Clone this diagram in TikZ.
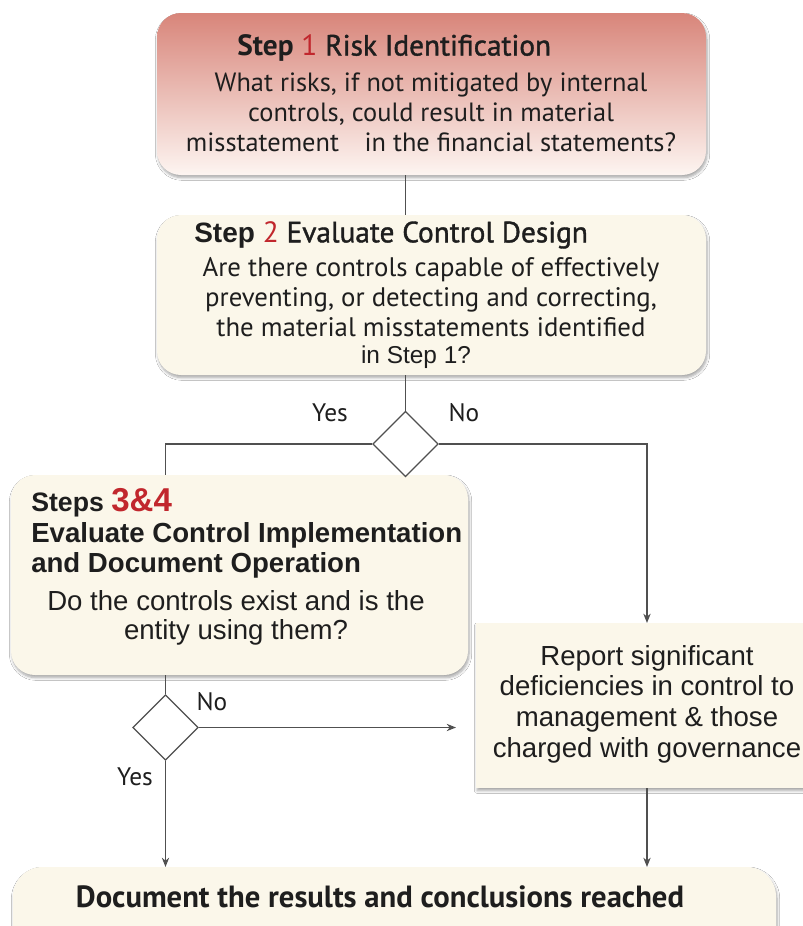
\documentclass[tikz,border=0pt]{standalone}
\usepackage{fontspec}
\setmainfont{PT Sans}
\newfontfamily\ptsemi[FakeBold=1.3]{PT Sans}
\newfontfamily\arl{Liberation Sans}
\usetikzlibrary{shapes.geometric,arrows.meta,fit,shadows,shadows.blur}
\definecolor{cream}{HTML}{FBF7EA}
\definecolor{salmon}{HTML}{D8857A}
\definecolor{paleend}{HTML}{FDF5F1}
\definecolor{stepred}{HTML}{C1272D}
\definecolor{ink}{HTML}{1E1E1E}
\definecolor{wire}{HTML}{505050}
\begin{document}
\begin{tikzpicture}[x=0.75pt,y=-0.75pt,
  boxbase/.style={inner sep=0pt, outer sep=0pt, blur shadow={shadow xshift=0.8pt, shadow yshift=-2pt, shadow blur steps=6, shadow opacity=35}},
  roundbox/.style={boxbase, rounded corners=18pt, fill=cream},
  redbox/.style={boxbase, rounded corners=18pt, top color=salmon, bottom color=paleend},
  squarebox/.style={boxbase, fill=cream},
  decision/.style={diamond, draw=wire, line width=0.9pt, fill=white, inner sep=0pt, minimum width=49pt, minimum height=49pt, aspect=1},
  wireline/.style={draw=wire, line width=0.9pt},
  arrowline/.style={wireline, -{Stealth[length=7pt,width=5.5pt]}},
  txt/.style={inner sep=0pt, text=ink},
  lbl/.style={inner sep=0pt, text=ink, font=\fontsize{19}{21}\selectfont}
]
\useasboundingbox (0,0) rectangle (803,926);
\fill[white] (0,0) rectangle (803,926);

% boxes
\node[redbox, fit={(157,13) (706,175)}] (s1) {};
\node[roundbox, fit={(157,215) (706,375)}] (s2) {};
\node[roundbox, fit={(11,475) (468,675)}] (s3) {};
\node[squarebox, fit={(476,623) (840,788)}] (rep) {};
\node[roundbox, rounded corners=22pt, fit={(13,867) (776,955)}] (doc) {};

% decisions
\node[decision] (d1) at (405.5,444) {};
\node[decision] (d2) at (165.5,727.5) {};
\coordinate (cR) at (647,444);

% connectors
\draw[wireline] (s1.south -| d1) -- (s2.north -| d1);
\draw[wireline] (s2.south -| d1) -- (d1.north);
\draw[wireline] (d1.west) -| (s3.north -| d2);
\draw[arrowline] (d1.east) -| (rep.north -| cR);
\draw[wireline] (s3.south -| d2) -- (d2.north);
\draw[arrowline, shorten >=15pt] (d2.east) -- (d2.east -| rep.west);
\draw[arrowline] (d2.south) -- (doc.north -| d2);
\draw[arrowline] (rep.south -| cR) -- (doc.north -| cR);

% labels
\node[lbl] (yes1) at (330,413) {Yes};
\node[lbl] (no1) at (464,413) {No};
\node[lbl] (no2) at (212,702) {No};
\node[lbl] (yes2) at (135,777) {Yes};

% step 1
\node[txt, anchor=west, font=\fontsize{22}{26}\selectfont] (t1) at (237,48)
  {\textbf{Step} {\color{stepred}1} {\ptsemi Risk Identification}};
\node[txt, align=center, font=\fontsize{19.8}{22.5}\selectfont] (b1) at (431,112)
  {What risks, if not mitigated by internal\\controls, could result in material\\misstatement\hspace{0.7em} in the financial statements?};

% step 2
\node[txt, anchor=west, font=\fontsize{22}{26}\selectfont] (t2) at (194,235)
  {{\arl\bfseries\fontsize{21}{26}\selectfont Step} {\color{stepred}2} {\ptsemi Evaluate Control Design}};
\node[txt, align=center, font=\fontsize{20.1}{22.5}\selectfont] (b2) at (431,297)
  {Are there controls capable of effectively\\preventing, or detecting and correcting,\\the material misstatements identified};
\node[txt, font=\arl\fontsize{18.3}{22}\selectfont] (b2b) at (416,357) {in Step 1?};

% steps 3 & 4
\node[txt, anchor=west, font=\arl\bfseries\fontsize{20}{24}\selectfont] (t3) at (31,503)
  {Steps {\color{stepred}\fontsize{24.8}{28}\selectfont 3\&4}};
\node[txt, anchor=west, align=left, font=\arl\bfseries\fontsize{20.7}{22.5}\selectfont] (t3b) at (31,550)
  {Evaluate Control Implementation\\and Document Operation};
\node[txt, align=center, font=\arl\fontsize{20.7}{21.75}\selectfont] (b3) at (236,617.5)
  {Do the controls exist and is the\\entity using them?};

% report
\node[txt, align=center, font=\arl\fontsize{20.7}{23}\selectfont] (b4) at (647,704)
  {Report significant\\deficiencies in control to\\management \& those\\charged with governance};

% document
\node[txt, font=\bfseries\fontsize{23}{28}\selectfont] (t5) at (380,897)
  {Document the results and conclusions reached};
\end{tikzpicture}
\end{document}
